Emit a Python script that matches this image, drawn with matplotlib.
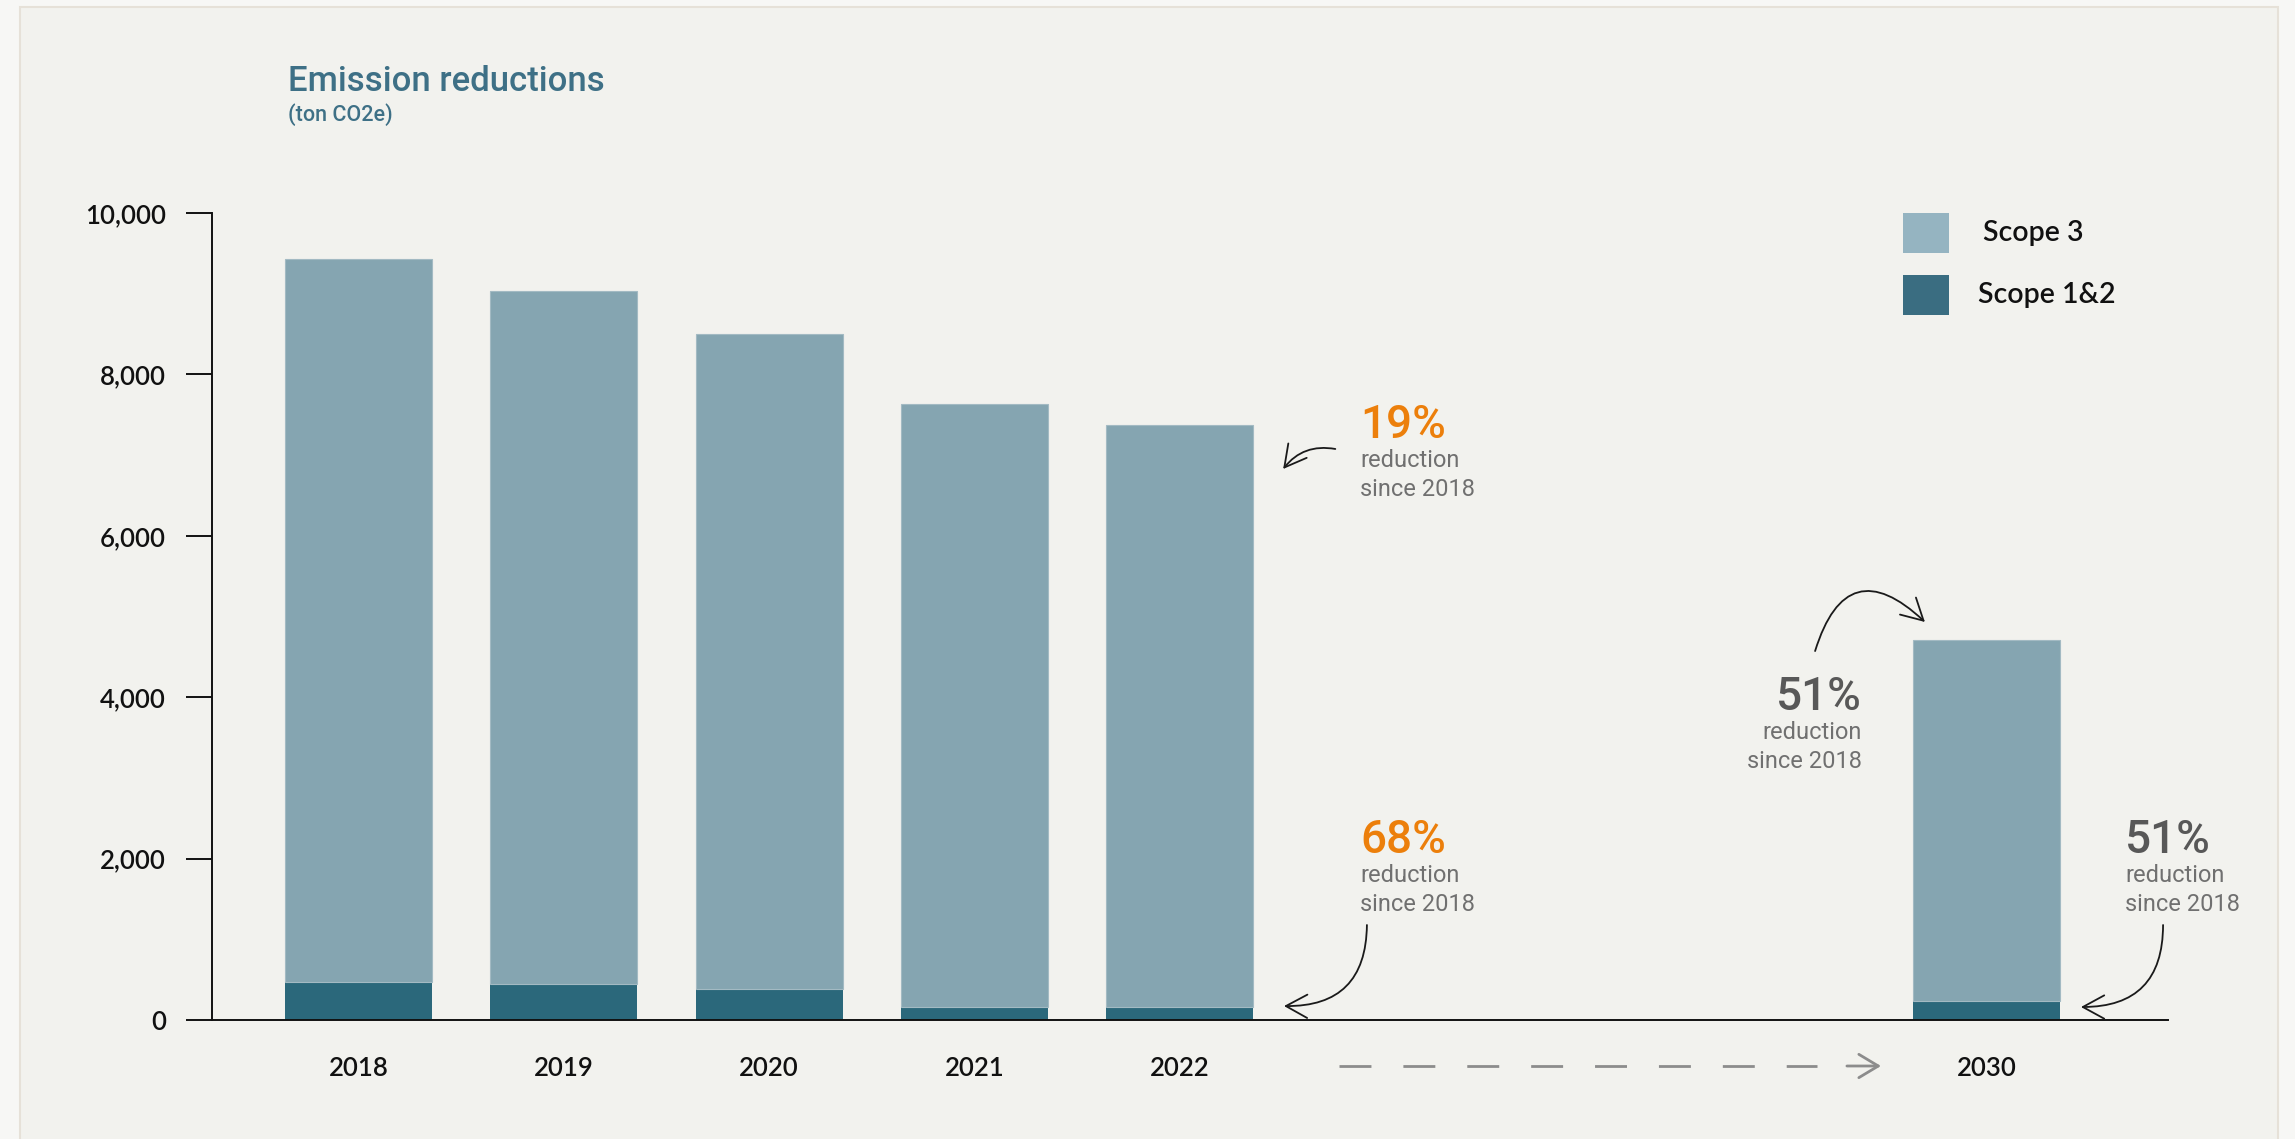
import matplotlib
matplotlib.use("Agg")
import matplotlib.pyplot as plt
from matplotlib.patches import Rectangle

# ---------------- data ----------------
years = ["2018", "2019", "2020", "2021", "2022", "2030"]
scope12 = [467, 446, 384, 160, 158, 232]
scope3 = [8963, 8584, 8120, 7473, 7221, 4478]
ytick_values = [0, 2000, 4000, 6000, 8000, 10000]
ytick_labels = ["0", "2,000", "4,000", "6,000", "8,000", "10,000"]
legend_labels = ["Scope 3", "Scope 1&2"]

# layout (slot positions of the categories on the x axis)
slots = [0, 1, 2, 3, 4, 7.93]

W, H = 2295, 1139
BG_OUT = "#f7f7f5"
BG_IN = "#f2f2ee"
C3 = "#85a5b1"
C12 = "#2b687b"
C3_LEG = "#95b4c1"
C12_LEG = "#3a6d81"
ORANGE = "#ec7f0b"
GRAY_T = "#707070"
DARK_P = "#585858"

def fx(px):
    return px / W

def fy(py):
    return 1 - py / H

fig = plt.figure(figsize=(W / 100, H / 100), dpi=100, facecolor=BG_OUT)
fig.patches.append(Rectangle((fx(20), -0.02), fx(2278) - fx(20), fy(7) + 0.02,
                             transform=fig.transFigure, facecolor=BG_IN,
                             edgecolor="#e6e1d8", lw=1.5, zorder=-10))

ax = fig.add_axes([fx(212), fy(1020), fx(2168) - fx(212), fy(213) - fy(1020)])
ax.set_zorder(5)
ax.set_facecolor("none")

ax.bar(slots, scope12, width=0.716, color=C12, zorder=2)
ax.bar(slots, scope3, width=0.716, bottom=scope12, color=C3, zorder=2,
       edgecolor="#a3bac3", linewidth=0.8)

ax.set_xlim(-0.7136, 8.814)
ax.set_ylim(0, 10000)

for s in ["top", "right"]:
    ax.spines[s].set_visible(False)
for s in ["left", "bottom"]:
    ax.spines[s].set_linewidth(1.4)
    ax.spines[s].set_color("#111111")

ax.set_yticks(ytick_values)
ax.set_yticklabels(ytick_labels)
ax.tick_params(axis="y", direction="out", length=18.7, width=1.4, pad=14.4,
               labelsize=18.5, colors="#111111")
ax.set_xticks(slots)
ax.set_xticklabels(years)
ax.tick_params(axis="x", length=0, pad=26, labelsize=18.5, colors="#111111")
for lbl in ax.get_yticklabels() + ax.get_xticklabels():
    lbl.set_fontfamily(["Lato", "DejaVu Sans"])
    lbl.set_fontweight("semibold")

# title
fig.text(fx(288), fy(91), "Emission reductions", fontsize=25, color="#3e7086",
         family=["Roboto", "DejaVu Sans"], weight="medium", va="baseline")
fig.text(fx(288), fy(121), "(ton CO2e)", fontsize=15.5, color="#3e7086",
         family=["Roboto", "DejaVu Sans"], weight="medium", va="baseline")

# legend
for (top, col, lab, tx) in [(213, C3_LEG, legend_labels[0], 1983),
                            (275, C12_LEG, legend_labels[1], 1978)]:
    fig.patches.append(Rectangle((fx(1903), fy(top + 40)), fx(1949) - fx(1903),
                                 fy(top) - fy(top + 40), transform=fig.transFigure,
                                 facecolor=col, edgecolor="none", zorder=3))
    fig.text(fx(tx), fy(top + 20), lab, fontsize=20.5, color="#111111",
             family=["Lato", "DejaVu Sans"], weight="semibold", va="center",
             ha="left")

# annotations
def block(x, ybase, pct, color, ha="left"):
    ax.text(x, ybase, pct, fontsize=33, color=color, weight="medium",
            family=["Roboto", "DejaVu Sans"], va="baseline", ha=ha)
    ax.text(x, ybase - 359, "reduction", fontsize=17, color=GRAY_T,
            family=["Roboto", "DejaVu Sans"], va="baseline", ha=ha)
    ax.text(x, ybase - 718, "since 2018", fontsize=17, color=GRAY_T,
            family=["Roboto", "DejaVu Sans"], va="baseline", ha=ha)

block(4.878, 7212, "19%", ORANGE)
block(4.878, 2069, "68%", ORANGE)
block(8.605, 2069, "51%", DARK_P)
block(7.323, 3841, "51%", DARK_P, ha="right")

def carrow(start, end, rad):
    ax.annotate("", xy=end, xytext=start,
                arrowprops=dict(arrowstyle="->,head_length=0.55,head_width=0.3",
                                connectionstyle=f"arc3,rad={rad}", lw=1.3,
                                color="#1a1a1a", shrinkA=0, shrinkB=0,
                                mutation_scale=28))

carrow((4.758, 7076), (4.504, 6828), 0.3)
carrow((4.912, 1177), (4.508, 173), -0.5)
carrow((8.79, 1177), (8.39, 161), -0.5)
carrow((7.095, 4572), (7.63, 4932), -0.8)

# dashed timeline arrow
tr = ax.get_xaxis_transform()
ax.plot([4.776, 7.104], [-0.057, -0.057], transform=tr, clip_on=False,
        color="#8c8c8c", lw=2.0, ls=(0, (11.5, 11.5)), solid_capstyle="butt",
        dash_capstyle="butt")
ax.annotate("", xy=(7.416, -0.057), xytext=(7.25, -0.057), xycoords=tr,
            textcoords=tr,
            arrowprops=dict(arrowstyle="->,head_length=0.5,head_width=0.3",
                            lw=2.0, color="#8c8c8c", shrinkA=0, shrinkB=0,
                            mutation_scale=28))

fig.savefig("out.png", dpi=100, facecolor=BG_OUT)
